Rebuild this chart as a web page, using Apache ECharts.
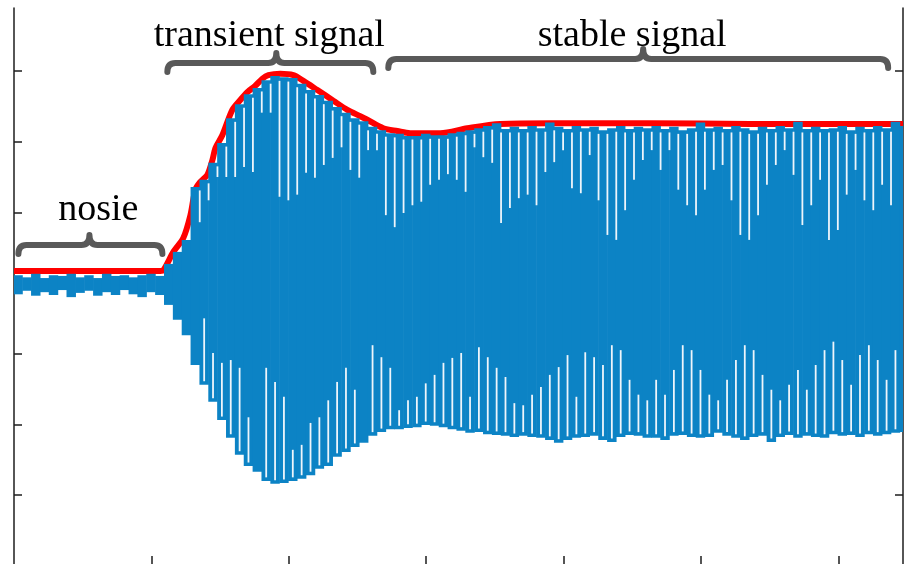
<!DOCTYPE html>
<html><head><meta charset="utf-8">
<script src="https://cdn.jsdelivr.net/npm/echarts@6/dist/echarts.min.js"></script>
<style>html,body{margin:0;padding:0;background:#fff}#c{width:906px;height:564px}</style>
</head><body><div id="c"></div>
<script>
// ---- data ----
const cycleX0 = 0.0295, cycleStep = 0.0645;   // sample time of the first cycle, cycle period (axis units)
const peakTop = [
  0.11,0.08,0.13,0.07,0.11,0.10,0.13,0.08,0.11,0.07,0.13,0.10,0.11,0.08,0.11,0.13,0.10,
  0.27,0.44,0.61,1.36,1.46,1.70,1.98,2.33,2.53,2.67,2.76,2.87,2.93,
  2.91,2.90,2.82,2.73,2.66,2.58,2.49,2.41,2.33,2.29,
  2.21,2.16,2.12,2.11,2.08,2.08,2.11,2.09,2.09,2.12,
  2.14,2.16,2.19,2.22,2.26,2.18,2.21,2.18,2.22,2.19,
  2.27,2.21,2.18,2.22,2.19,2.21,2.16,2.19,2.22,2.18,
  2.21,2.19,2.22,2.18,2.21,2.16,2.19,2.27,2.19,2.21,
  2.18,2.22,2.19,2.16,2.21,2.18,2.22,2.19,2.28,2.18,
  2.21,2.18,2.19,2.22,2.16,2.21,2.18,2.22,2.19,2.28,
  2.22
];
const peakBottom = [
  -0.16,-0.11,-0.18,-0.13,-0.17,-0.10,-0.20,-0.14,-0.11,-0.18,-0.13,-0.17,-0.10,-0.16,-0.20,-0.13,-0.17,
  -0.31,-0.52,-0.74,-1.16,-1.44,-1.68,-1.94,-2.19,-2.43,-2.59,-2.67,-2.80,-2.84,
  -2.83,-2.80,-2.77,-2.72,-2.63,-2.59,-2.46,-2.39,-2.32,-2.26,
  -2.16,-2.11,-2.07,-2.07,-2.05,-2.04,-2.01,-2.02,-2.04,-2.07,
  -2.09,-2.12,-2.11,-2.14,-2.15,-2.16,-2.18,-2.16,-2.18,-2.19,
  -2.22,-2.26,-2.22,-2.19,-2.18,-2.16,-2.22,-2.25,-2.18,-2.15,
  -2.16,-2.19,-2.19,-2.22,-2.16,-2.15,-2.18,-2.19,-2.18,-2.12,
  -2.16,-2.19,-2.22,-2.18,-2.16,-2.25,-2.18,-2.15,-2.19,-2.16,
  -2.18,-2.19,-2.14,-2.16,-2.15,-2.18,-2.14,-2.16,-2.14,-2.12,
  -2.11
];
// depth reached by the light gaps between neighbouring peaks (top) and troughs (bottom)
const gapTopEnd = [
  null,null,null,null,null,null,null,null,null,null,
  null,null,null,null,null,null,null,null,null,null,
  0.86,1.17,1.50,1.50,1.50,1.64,1.57,2.41,2.41,1.22,
  1.17,1.25,1.56,1.49,1.67,1.77,1.92,1.60,1.49,1.88,
  1.88,0.96,0.79,0.99,1.10,1.15,1.39,1.46,1.54,1.46,
  1.29,1.92,1.78,1.70,0.85,1.06,1.20,1.25,1.10,1.57,
  1.71,1.88,1.34,1.27,1.81,1.17,0.68,0.61,1.03,1.46,
  1.74,1.88,1.60,1.88,1.32,1.10,0.96,1.32,1.60,1.67,
  1.17,0.68,0.61,0.96,1.39,1.67,1.88,1.53,0.82,1.10,
  1.46,0.61,0.75,1.25,1.60,1.17,1.03,1.39,1.10,null,
  null
];
const gapBottomEnd = [
  null,null,null,null,null,null,null,null,null,null,
  null,null,null,null,null,null,null,null,null,null,
  null,-0.50,-0.99,-1.13,-1.09,-1.20,-1.90,null,-1.20,-1.40,
  -1.61,-2.36,-2.29,-1.98,-1.90,-1.66,-1.40,-1.20,-1.51,null,
  -0.88,-1.05,-1.20,-1.80,-1.66,-1.61,-1.42,-1.30,-1.13,-1.06,
  -0.99,-1.61,-0.91,-1.05,-1.20,-1.33,-1.70,-1.73,-1.58,-1.47,
  -1.30,-1.19,-1.02,-1.61,-0.98,-1.05,-1.16,-0.88,-0.95,-1.37,
  -1.58,-1.66,-1.37,-1.58,-1.23,-0.88,-0.95,-1.23,-1.58,-1.66,
  -1.37,-1.09,-0.88,-0.95,-1.30,-1.51,-1.66,-1.44,-1.23,-1.51,
  -1.16,-0.95,-0.83,-1.09,-1.44,-1.02,-0.88,-1.09,-1.37,-0.95,
  null
];
const envelopeX = [0,1.065,1.087,1.160,1.233,1.284,1.320,1.356,1.407,1.444,
  1.466,1.516,1.589,1.647,1.698,1.756,1.807,1.851,1.938,2.033,
  2.106,2.208,2.324,2.426,2.520,2.571,2.688,2.790,2.884,3.102,
  3.299,3.539,3.903,4.630,5.358,6.085,6.470];
const envelopeY = [0.17,0.17,0.18,0.44,0.64,0.96,1.32,1.43,1.53,1.74,
  1.91,2.09,2.45,2.59,2.70,2.79,2.89,2.94,2.96,2.94,
  2.86,2.73,2.58,2.45,2.36,2.31,2.19,2.15,2.12,2.12,
  2.19,2.25,2.26,2.26,2.25,2.25,2.25];
const braceStart = [0.032, 1.116, 2.724];
const braceMid   = [0.549, 1.909, 4.579];
const braceEnd   = [1.080, 2.615, 6.362];
const braceLevel = [0.538, 3.113, 3.170];
const labelText = ['nosie', 'transient signal', 'stable signal'];
const labelX = [0.614, 1.858, 4.499];
const labelY = [1.03, 3.50, 3.50];
const xTicks = [1, 2, 3, 4, 5, 6];
const yTicks = [-3, -2, -1, 0, 1, 2, 3];

// ---- styles ----
const BLUE = '#0c83c5', RED = '#ff0000', GAP = '#eef5fb', BRACE = '#595959', AXIS = '#1e1e1e';

const cycleData = peakTop.map((t, k) => [cycleX0 + cycleStep * k, t, peakBottom[k]]);
const gapData = [];
gapTopEnd.forEach((e, b) => {
  if (e == null || b + 1 >= peakTop.length) return;
  const start = Math.min(peakTop[b], peakTop[b + 1]) - 0.05;
  if (e < start) gapData.push([cycleX0 + cycleStep * (b + 0.5), start, e]);
});
gapBottomEnd.forEach((e, k) => {
  if (e == null) return;
  const start = peakBottom[k] + 0.05;
  if (e > start) gapData.push([cycleX0 + cycleStep * k, start, e]);
});
const braceData = braceStart.map((s, i) => [s, braceMid[i], braceEnd[i], braceLevel[i]]);
const labelData = labelX.map((x, i) => [x, labelY[i]]);

function clip(rect, params) {
  const cs = params.coordSys;
  return echarts.graphic.clipRectByRect(rect, {x: cs.x, y: cs.y, width: cs.width, height: cs.height});
}
function renderCycle(params, api) {
  const w = api.size([cycleStep, 0])[0];
  const pt = api.coord([api.value(0), api.value(1)]);
  const pb = api.coord([api.value(0), api.value(2)]);
  const r = clip({x: pt[0] - w / 2 - 0.3, y: pt[1], width: w + 0.6, height: pb[1] - pt[1]}, params);
  return r && {type: 'rect', shape: r, style: {fill: BLUE}};
}
function renderGap(params, api) {
  const p1 = api.coord([api.value(0), api.value(1)]);
  const p2 = api.coord([api.value(0), api.value(2)]);
  const r = clip({x: p1[0] - 0.9, y: Math.min(p1[1], p2[1]), width: 1.8, height: Math.abs(p2[1] - p1[1])}, params);
  return r && {type: 'rect', shape: r, style: {fill: GAP}};
}
function renderBrace(params, api) {
  const a = api.coord([api.value(0), api.value(3)]);
  const m = api.coord([api.value(1), api.value(3)]);
  const b = api.coord([api.value(2), api.value(3)]);
  const y = a[1], r = 8, d = 9, h = 10;
  const p = 'M' + a[0] + ' ' + (y + d) + ' Q' + a[0] + ' ' + y + ' ' + (a[0] + r) + ' ' + y +
    ' L' + (m[0] - r) + ' ' + y + ' Q' + m[0] + ' ' + y + ' ' + m[0] + ' ' + (y - h) +
    ' Q' + m[0] + ' ' + y + ' ' + (m[0] + r) + ' ' + y +
    ' L' + (b[0] - r) + ' ' + y + ' Q' + b[0] + ' ' + y + ' ' + b[0] + ' ' + (y + d);
  return {type: 'path', shape: {pathData: p},
    style: {fill: 'none', stroke: BRACE, lineWidth: 6, lineCap: 'round', lineJoin: 'round'}};
}
function renderLabel(params, api) {
  const p = api.coord([api.value(0), api.value(1)]);
  return {type: 'text', x: p[0], y: p[1],
    style: {text: labelText[params.dataIndex], font: '38px "Liberation Serif", "DejaVu Serif", serif',
      fill: '#000', align: 'center', verticalAlign: 'middle'}};
}

const chart = echarts.init(document.getElementById('c'), null, {renderer: 'canvas'});
const yAxisBase = {
  type: 'value', min: -3.976, max: 3.891,
  axisLine: {show: true, onZero: false, lineStyle: {color: AXIS, width: 1.5}},
  axisTick: {show: true, inside: true, length: 8, customValues: yTicks, lineStyle: {color: AXIS, width: 1.5}},
  axisLabel: {show: false}, splitLine: {show: false}
};
chart.setOption({
  animation: false,
  backgroundColor: '#fff',
  grid: {left: 14, right: 3, top: 8, bottom: 0, containLabel: false},
  xAxis: {
    type: 'value', min: 0, max: 6.47, position: 'bottom',
    axisLine: {show: false, onZero: false},
    axisTick: {show: true, inside: true, length: 8, customValues: xTicks, lineStyle: {color: AXIS, width: 1.5}},
    axisLabel: {show: false}, splitLine: {show: false}
  },
  yAxis: [
    Object.assign({}, yAxisBase, {position: 'left'}),
    Object.assign({}, yAxisBase, {position: 'right'})
  ],
  series: [
    {type: 'line', data: envelopeX.map((x, i) => [x, envelopeY[i]]), showSymbol: false, symbol: 'none',
      smooth: 0.3, lineStyle: {color: RED, width: 6}, z: 1},
    {type: 'custom', data: cycleData, renderItem: renderCycle, encode: {x: 0, y: [1, 2]}, z: 2},
    {type: 'custom', data: gapData, renderItem: renderGap, encode: {x: 0, y: [1, 2]}, z: 3},
    {type: 'custom', data: braceData, renderItem: renderBrace, encode: {x: [0, 1, 2], y: 3}, z: 4},
    {type: 'custom', data: labelData, renderItem: renderLabel, encode: {x: 0, y: 1}, z: 5}
  ]
});
</script>
</body></html>
